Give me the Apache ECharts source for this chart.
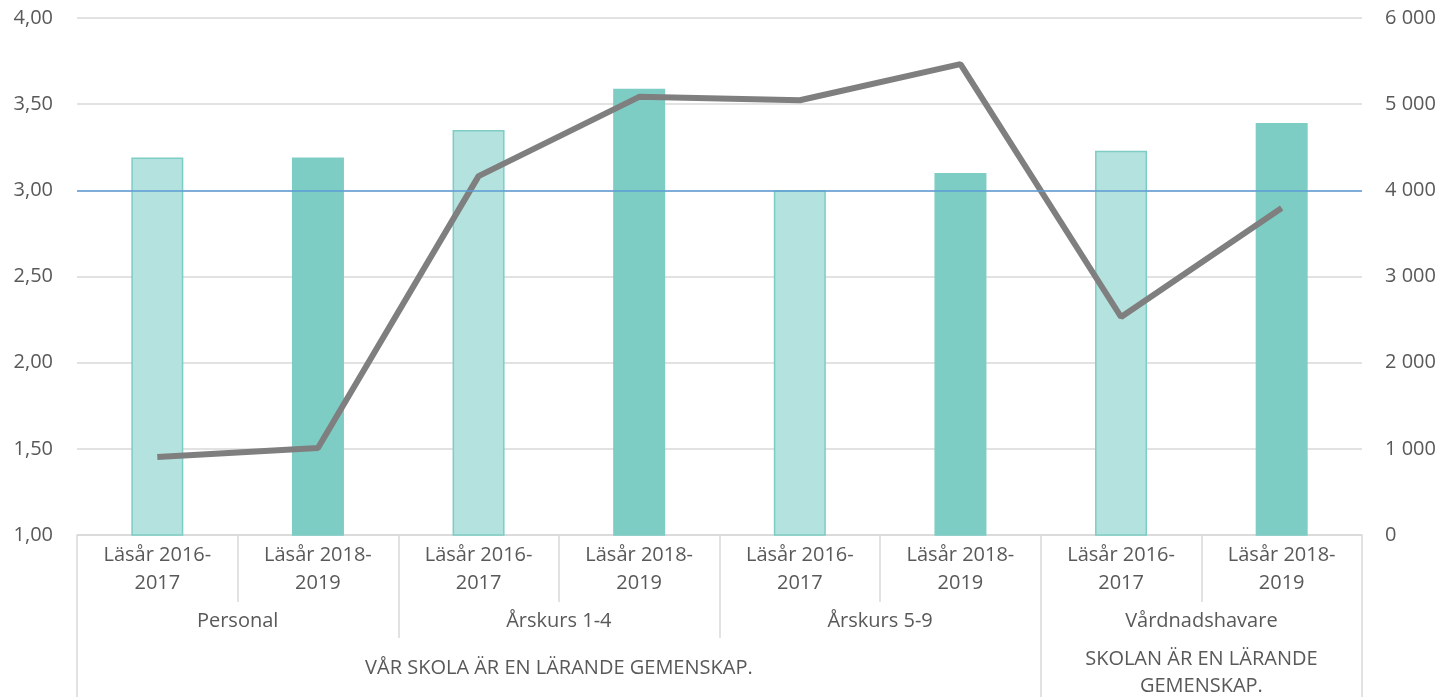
<!DOCTYPE html>
<html>
<head>
<meta charset="utf-8">
<script src="https://cdn.jsdelivr.net/npm/echarts@6/dist/echarts.min.js"></script>
<style>
  html, body { margin: 0; padding: 0; background: #fff; }
  #chart { width: 1443px; height: 697px; }
</style>
</head>
<body>
<div id="chart"></div>
<script>
// categories (three levels)
var periods = ["Läsår 2016-\n2017", "Läsår 2018-\n2019", "Läsår 2016-\n2017", "Läsår 2018-\n2019",
  "Läsår 2016-\n2017", "Läsår 2018-\n2019", "Läsår 2016-\n2017", "Läsår 2018-\n2019"];
var groups = ["Personal", "Årskurs 1-4", "Årskurs 5-9", "Vårdnadshavare"];
var statements = ["", "VÅR SKOLA ÄR EN LÄRANDE GEMENSKAP.", "", "SKOLAN ÄR EN LÄRANDE\nGEMENSKAP."];

// values
var meanValues = [3.19, 3.19, 3.35, 3.59, 3.00, 3.10, 3.23, 3.39];
var answerCounts = [905, 1010, 4165, 5085, 5045, 5465, 2530, 3795];
var targetLevel = 3.0;

var textColor = "#595959";
var lineGrey = "#d9d9d9";
var font = "'Open Sans', 'Noto Sans', sans-serif";

var chart = echarts.init(document.getElementById("chart"));

chart.setOption({
  animation: false,
  grid: { left: 77, right: 81, top: 18, bottom: 162, containLabel: false, outerBoundsMode: "none" },
  xAxis: [
    {
      type: "category",
      position: "bottom",
      data: periods,
      axisLine: { show: true, lineStyle: { color: lineGrey, width: 1.5 } },
      axisTick: { show: true, interval: 0, length: 67, lineStyle: { color: lineGrey, width: 1.5 } },
      axisLabel: { interval: 0, margin: 6, color: textColor, fontFamily: font, fontSize: 20, lineHeight: 28 },
    },
    {
      type: "category",
      position: "bottom",
      data: groups,
      axisLine: { show: false },
      axisTick: { show: true, interval: 0, length: 103, lineStyle: { color: lineGrey, width: 1.5 } },
      axisLabel: { interval: 0, margin: 72, color: textColor, fontFamily: font, fontSize: 20, lineHeight: 28 },
    },
    {
      type: "category",
      position: "bottom",
      data: statements,
      axisLine: { show: false },
      axisTick: {
        show: true,
        // separators only around the two statements (6 + 2 categories)
        interval: function (index) {
          return index === 0 || index === 3;
        },
        length: 162,
        lineStyle: { color: lineGrey, width: 1.5 },
      },
      axisLabel: {
        interval: 0,
        margin: 111,
        color: textColor,
        fontFamily: font,
        fontSize: 20,
        lineHeight: 27,
        formatter: function (value) {
          return value.indexOf("\n") < 0 ? "{one|" + value + "}" : value;
        },
        rich: { one: { lineHeight: 44, fontSize: 20, fontFamily: font, color: textColor } },
      },
    },
  ],
  yAxis: [
    {
      type: "value",
      min: 1,
      max: 4,
      interval: 0.5,
      axisLine: { show: false },
      axisTick: { show: false },
      splitLine: { show: true, lineStyle: { color: lineGrey, width: 1.5 } },
      axisLabel: {
        margin: 24,
        color: textColor,
        fontFamily: font,
        fontSize: 20,
        formatter: function (v) {
          return v.toFixed(2).replace(".", ",");
        },
      },
    },
    {
      type: "value",
      min: 0,
      max: 6000,
      interval: 1000,
      position: "right",
      axisLine: { show: false },
      axisTick: { show: false },
      splitLine: { show: false },
      axisLabel: {
        margin: 23,
        color: textColor,
        fontFamily: font,
        fontSize: 20,
        formatter: function (v) {
          return String(v).replace(/\B(?=(\d{3})+(?!\d))/g, " ");
        },
      },
    },
  ],
  series: [
    {
      name: "Medelvärde",
      type: "bar",
      xAxisIndex: 0,
      yAxisIndex: 0,
      barWidth: 52,
      data: meanValues,
      itemStyle: {
        color: function (p) {
          return p.dataIndex % 2 === 0 ? "#b4e2de" : "#7ecdc5";
        },
        borderColor: "#7ecdc5",
        borderWidth: 1.5,
      },
      markLine: {
        silent: true,
        symbol: ["none", "none"],
        label: { show: false },
        lineStyle: { color: "#5b9bd5", width: 1.5, type: "solid" },
        data: [{ yAxis: targetLevel }],
      },
    },
    {
      name: "Antal svar",
      type: "line",
      xAxisIndex: 0,
      yAxisIndex: 1,
      showSymbol: false,
      symbol: "none",
      data: answerCounts,
      lineStyle: { color: "#7f7f7f", width: 6 },
      itemStyle: { color: "#7f7f7f" },
    },
  ],
});
</script>
</body>
</html>
